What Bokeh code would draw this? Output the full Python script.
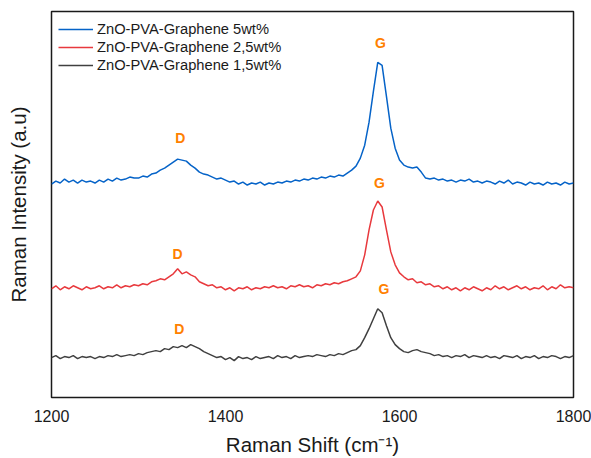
from bokeh.plotting import figure
from bokeh.models import Range1d, FixedTicker, Legend, LegendItem
from bokeh.core.properties import value
from bokeh.embed import file_html
from bokeh.resources import INLINE

# Raman shift axis (cm-1), step 5
shift = list(range(1200, 1801, 5))

# Intensities (arbitrary units)
blue_5wt = [
    214, 217, 215, 219, 216, 218, 215, 218, 216, 217,
    215, 218, 216, 219, 217, 220, 218, 219, 221, 220,
    220, 222, 221, 224, 225, 228, 230, 233, 236, 239,
    238, 237, 233, 230, 226, 224, 223, 221, 219, 220,
    218, 216, 217, 214, 216, 213, 215, 214, 216, 213,
    215, 214, 216, 215, 217, 216, 218, 217, 219, 218,
    220, 219, 221, 220, 222, 221, 223, 222, 225, 228,
    232, 240, 253, 276, 307, 336, 333, 302, 270, 250,
    238, 233, 231, 230, 231, 226, 220, 219, 220, 218,
    219, 217, 218, 216, 218, 217, 219, 216, 217, 215,
    217, 216, 214, 217, 215, 218, 214, 216, 215, 213,
    216, 214, 215, 213, 216, 214, 215, 213, 216, 214,
    215,
]
red_25wt = [
    109, 112, 108, 111, 109, 112, 110, 108, 111, 109,
    110, 112, 109, 111, 110, 113, 110, 112, 111, 113,
    112, 114, 113, 116, 117, 119, 118, 121, 124, 129,
    124, 126, 123, 121, 116, 114, 112, 113, 110, 111,
    108, 110, 107, 110, 109, 111, 108, 110, 109, 111,
    110, 112, 110, 111, 109, 112, 111, 113, 111, 112,
    110, 113, 112, 114, 113, 115, 114, 116, 117, 119,
    121, 127, 143, 168, 188, 197, 191, 168, 146, 133,
    125, 121, 118, 119, 115, 116, 113, 114, 111, 112,
    109, 111, 108, 110, 107, 110, 108, 111, 109, 107,
    110, 108, 112, 109, 111, 108, 110, 112, 109, 111,
    108, 110, 109, 112, 108, 111, 109, 113, 110, 111,
    110,
]
black_15wt = [
    40, 42, 39, 41, 40, 42, 39, 41, 40, 41,
    39, 41, 40, 42, 41, 43, 41, 42, 43, 42,
    44, 43, 45, 46, 47, 46, 49, 48, 51, 50,
    52, 50, 53, 51, 49, 46, 44, 42, 40, 41,
    38, 40, 37, 41, 39, 40, 38, 41, 39, 40,
    41, 39, 42, 40, 41, 39, 42, 40, 41, 42,
    41, 43, 42, 41, 43, 42, 44, 43, 45, 47,
    48, 52, 60, 69, 79, 89, 85, 72, 60, 53,
    49, 46, 45, 47, 48, 46, 45, 44, 42, 43,
    41, 42, 40, 42, 41, 43, 40, 42, 41, 40,
    42, 40, 41, 39, 42, 41, 40, 42, 39, 41,
    40, 42, 39, 41, 40, 42, 41, 39, 41, 40,
    42,
]

series_names = ["ZnO-PVA-Graphene 5wt%", "ZnO-PVA-Graphene 2,5wt%", "ZnO-PVA-Graphene 1,5wt%"]
series_colors = ["#0563C8", "#E8393D", "#404040"]

# Peak labels
peak_text = ["G", "D", "G", "D", "G", "D"]
peak_x = [1578, 1348, 1577, 1345, 1582, 1347]
peak_y = [355, 260, 215, 144, 109, 69]

x_ticks = [1200, 1400, 1600, 1800]

p = figure(width=591, height=458, output_backend="svg", toolbar_location=None,
           x_range=Range1d(1200, 1800), y_range=Range1d(0, 387),
           min_border_left=51, min_border_right=18, min_border_top=11, min_border_bottom=60)
p.background_fill_color = "white"
p.border_fill_color = "white"
p.outline_line_color = "#1a1a1a"
p.outline_line_width = 1.5
p.xgrid.visible = False
p.ygrid.visible = False

items = []
for ys, name, col in zip([blue_5wt, red_25wt, black_15wt], series_names, series_colors):
    r = p.line(shift, ys, line_color=col, line_width=1.5)
    items.append(LegendItem(label=name, renderers=[r]))

p.text(x=peak_x, y=peak_y, text=peak_text, text_color="#FF8000",
       text_font=value("Liberation Sans"), text_font_style="bold",
       text_font_size="14px", text_align="center", text_baseline="middle")

legend = Legend(items=items, location=(7, 323))
legend.border_line_color = None
legend.background_fill_alpha = 0
legend.margin = 0
legend.padding = 0
legend.spacing = 0
legend.glyph_width = 35
legend.glyph_height = 18
legend.label_height = 18
legend.label_standoff = 4
legend.label_text_font = "Liberation Sans"
legend.label_text_font_size = "14.7px"
legend.label_text_color = "#1a1a1a"
p.add_layout(legend)

xa = p.xaxis[0]
xa.ticker = FixedTicker(ticks=x_ticks)
xa.axis_line_color = None
xa.major_tick_line_color = None
xa.minor_tick_line_color = None
xa.major_tick_out = 0
xa.major_label_standoff = 12
xa.major_label_text_font = "Liberation Sans"
xa.major_label_text_font_size = "16px"
xa.major_label_text_color = "#1a1a1a"
xa.axis_label = "Raman Shift (cm\u207b\u00b9)"
xa.axis_label_text_font = "Liberation Sans"
xa.axis_label_text_font_size = "20.5px"
xa.axis_label_text_font_style = "normal"
xa.axis_label_text_color = "#1a1a1a"
xa.axis_label_standoff = 8

ya = p.yaxis[0]
ya.axis_line_color = None
ya.major_tick_line_color = None
ya.minor_tick_line_color = None
ya.major_tick_out = 0
ya.major_label_text_font_size = "0px"
ya.major_label_text_color = None
ya.major_label_standoff = 0
ya.axis_label = "Raman Intensity (a.u)"
ya.axis_label_text_font = "Liberation Sans"
ya.axis_label_text_font_size = "20.5px"
ya.axis_label_text_font_style = "normal"
ya.axis_label_text_color = "#1a1a1a"
ya.axis_label_standoff = 18

open("out.html", "w").write(file_html(p, INLINE))
